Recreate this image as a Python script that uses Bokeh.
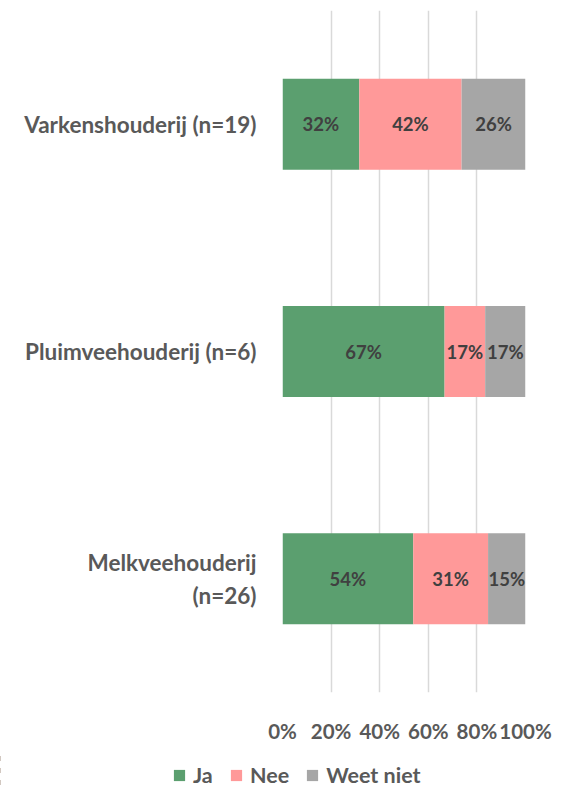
from bokeh.plotting import figure
from bokeh.layouts import column
from bokeh.models import ColumnDataSource, FactorRange, Range1d, Legend, LegendItem, NumeralTickFormatter, FixedTicker
from bokeh.core.properties import value
from bokeh.embed import file_html
from bokeh.resources import INLINE

categories = ["Varkenshouderij (n=19)", "Pluimveehouderij (n=6)", "Melkveehouderij\n(n=26)"]
ja = [31.6, 66.7, 53.8]
nee = [42.1, 16.7, 30.8]
weet_niet = [26.3, 16.6, 15.4]
series_names = ["Ja", "Nee", "Weet niet"]
colors = ["#5b9f6f", "#ff9999", "#a6a6a6"]
x_ticks = [0, 20, 40, 60, 80, 100]

FONT = "Lato"

src = ColumnDataSource(dict(
    cat=categories,
    ja=[v / 100 for v in ja],
    nee=[v / 100 for v in nee],
    weet=[v / 100 for v in weet_niet],
))

p = figure(width=571, height=752, frame_width=243, frame_height=682,
           output_backend="svg", toolbar_location=None,
           y_range=FactorRange(*categories[::-1]), x_range=Range1d(0, 1),
           min_border_left=282, min_border_right=46, min_border_top=10, min_border_bottom=60)
p.outline_line_color = None

rs = p.hbar_stack(["ja", "nee", "weet"], y="cat", height=0.4, color=colors, source=src, line_width=0)

# data labels
cols = [ja, nee, weet_niet]
lx, ly, lt = [], [], []
for i, c in enumerate(categories):
    left = 0.0
    for s in cols:
        v = s[i]
        lx.append((left + v / 2) / 100)
        ly.append(c)
        lt.append(f"{round(v)}%")
        left += v
p.text(x=lx, y=ly, text=lt, text_align="center", text_baseline="middle",
       text_font=value(FONT), text_font_style="bold", text_font_size="18.5px", text_color="#404040")

# axes
p.xaxis.ticker = FixedTicker(ticks=[t / 100 for t in x_ticks])
p.xaxis.formatter = NumeralTickFormatter(format="0%")
p.xaxis.axis_line_color = None
p.xaxis.major_tick_line_color = None
p.xaxis.minor_tick_line_color = None
p.xaxis.major_label_standoff = 20
p.xaxis.major_label_text_font = FONT
p.xaxis.major_label_text_font_style = "bold"
p.xaxis.major_label_text_font_size = "20.5px"
p.xaxis.major_label_text_color = "#595959"

p.yaxis.axis_line_color = None
p.yaxis.major_tick_line_color = None
p.yaxis.minor_tick_line_color = None
p.yaxis.major_label_standoff = 20
p.yaxis.major_label_text_font = FONT
p.yaxis.major_label_text_font_style = "bold"
p.yaxis.major_label_text_font_size = "22.5px"
p.yaxis.major_label_text_color = "#595959"
p.yaxis.major_label_text_align = "center"

p.ygrid.grid_line_color = None
p.xgrid.grid_line_color = "#d9d9d9"
p.xgrid.grid_line_width = 1.5

# legend strip below the chart (same bars, kept out of its visible range)
lg = figure(width=571, height=36, frame_width=571, frame_height=36,
            output_backend="svg", toolbar_location=None,
            x_range=Range1d(2, 3), y_range=FactorRange(*categories[::-1]),
            min_border_left=0, min_border_right=0, min_border_top=0, min_border_bottom=0)
lg.axis.visible = False
lg.grid.grid_line_color = None
lg.outline_line_color = None
for fig in (p, lg):
    try:
        fig.frame_align = False
    except Exception:
        pass
leg_rs = lg.hbar_stack(["ja", "nee", "weet"], y="cat", height=0.4, color=colors, source=src, line_width=0)

legend = Legend(items=[LegendItem(label=n, renderers=[r]) for n, r in zip(series_names, leg_rs)],
                orientation="horizontal", location=(172, 0),
                glyph_width=14, glyph_height=14, label_standoff=7, spacing=16,
                label_text_font=FONT, label_text_font_style="bold", label_text_font_size="21.5px",
                label_text_color="#595959", border_line_color=None, background_fill_alpha=0,
                padding=0, margin=0)
lg.add_layout(legend, "center")

layout = column(p, lg, spacing=0)
open("out.html", "w").write(file_html(layout, INLINE))
